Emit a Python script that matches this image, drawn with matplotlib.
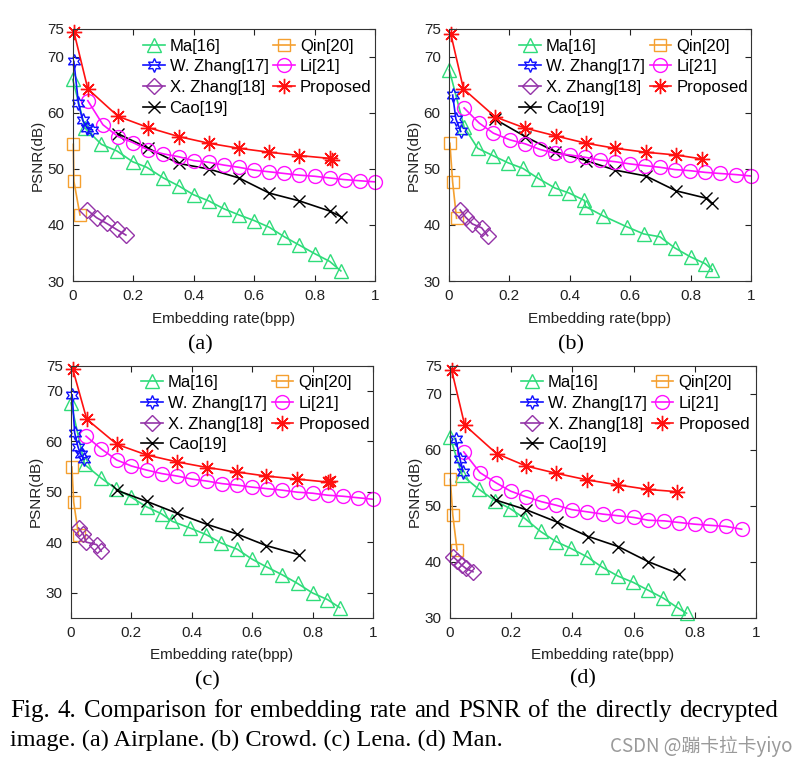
import matplotlib
matplotlib.use("Agg")
import matplotlib.pyplot as plt

plt.rcParams['font.family'] = ['Liberation Sans', 'DejaVu Sans']

labels = ["Ma[16]", "W. Zhang[17]", "X. Zhang[18]", "Cao[19]", "Qin[20]", "Li[21]", "Proposed"]
panel_tags = ["(a)", "(b)", "(c)", "(d)"]
x_ticks = [0, 0.2, 0.4, 0.6, 0.8, 1.0]
x_ticklabels = ["0", "0.2", "0.4", "0.6", "0.8", "1"]
y_ticks = [30, 40, 50, 60, 70, 75]
y_ticklabels = ["30", "40", "50", "60", "70", "75"]
ylims = [(30, 75), (30, 75), (25, 75), (30, 75)]
caption_line1 = "Fig. 4. Comparison for embedding rate and PSNR of the directly decrypted"
caption_line2 = "image. (a) Airplane. (b) Crowd. (c) Lena. (d) Man."
watermark = "CSDN @蹦卡拉卡yiyo"

# ---------------- (a) Airplane ----------------
ma_a_x = [0.0, 0.041, 0.095, 0.147, 0.198, 0.245, 0.3, 0.35, 0.4, 0.45, 0.5, 0.55, 0.6, 0.65, 0.7, 0.75, 0.8, 0.85, 0.887]
ma_a_y = [66.0, 57.3, 54.4, 53.2, 51.3, 50.3, 48.4, 47.0, 45.4, 44.3, 42.9, 41.8, 40.8, 39.6, 37.9, 36.4, 34.9, 33.5, 31.8]
wz_a_x = [0.004, 0.019, 0.033, 0.048, 0.065]
wz_a_y = [69.2, 61.7, 58.7, 57.3, 57.0]
xz_a_x = [0.048, 0.079, 0.112, 0.145, 0.176]
xz_a_y = [42.7, 41.3, 40.3, 39.2, 38.2]
cao_a_x = [0.15, 0.25, 0.35, 0.45, 0.55, 0.65, 0.75, 0.85, 0.887]
cao_a_y = [56.3, 53.7, 51.0, 50.0, 48.4, 45.7, 44.3, 42.5, 41.5]
qin_a_x = [0.002, 0.004, 0.024]
qin_a_y = [54.4, 47.8, 41.8]
li_a_x = [0.05, 0.1, 0.15, 0.2, 0.25, 0.3, 0.35, 0.4, 0.45, 0.5, 0.55, 0.6, 0.65, 0.7, 0.75, 0.8, 0.85, 0.9, 0.95, 1.0]
li_a_y = [62.2, 57.9, 55.8, 54.7, 53.4, 52.7, 52.2, 51.5, 51.2, 50.7, 50.3, 49.8, 49.5, 49.2, 48.9, 48.7, 48.4, 48.1, 47.9, 47.7]
pr_a_x = [0.004, 0.05, 0.15, 0.25, 0.35, 0.45, 0.55, 0.65, 0.75, 0.85, 0.857]
pr_a_y = [74.5, 64.3, 59.4, 57.4, 55.8, 54.6, 53.7, 53.0, 52.4, 51.9, 51.6]

# ---------------- (b) Crowd ----------------
ma_b_x = [0.001, 0.05, 0.095, 0.145, 0.196, 0.245, 0.296, 0.351, 0.398, 0.448, 0.452, 0.511, 0.588, 0.645, 0.698, 0.748, 0.8, 0.848, 0.872]
ma_b_y = [67.7, 57.5, 53.7, 52.4, 51.1, 50.1, 48.3, 46.6, 45.7, 44.4, 43.3, 41.6, 39.7, 38.4, 37.9, 35.9, 34.3, 33.1, 32.0]
wz_b_x = [0.012, 0.023, 0.039]
wz_b_y = [63.2, 58.9, 56.7]
xz_b_x = [0.037, 0.055, 0.077, 0.108, 0.128]
xz_b_y = [42.7, 41.4, 40.2, 39.5, 38.1]
cao_b_x = [0.152, 0.252, 0.351, 0.454, 0.55, 0.652, 0.752, 0.851, 0.87]
cao_b_y = [58.9, 55.8, 53.1, 51.5, 49.8, 48.75, 46.1, 44.8, 43.9]
qin_b_x = [0.003, 0.012, 0.025]
qin_b_y = [54.6, 47.7, 41.2]
li_b_x = [0.05, 0.1, 0.147, 0.202, 0.252, 0.301, 0.351, 0.401, 0.45, 0.5, 0.55, 0.6, 0.649, 0.699, 0.748, 0.798, 0.848, 0.897, 0.95, 1.0]
li_b_y = [60.9, 58.2, 56.4, 55.2, 54.5, 53.5, 52.8, 52.5, 52.1, 51.6, 51.3, 50.9, 50.6, 50.3, 49.9, 49.7, 49.4, 49.2, 49.0, 48.75]
pr_b_x = [0.006, 0.048, 0.153, 0.252, 0.354, 0.454, 0.55, 0.651, 0.752, 0.837]
pr_b_y = [74.1, 64.3, 59.3, 57.3, 55.9, 54.6, 53.7, 53.0, 52.5, 51.8]

# ---------------- (c) Lena ----------------
ma_c_x = [0.0, 0.045, 0.1, 0.148, 0.2, 0.25, 0.3, 0.336, 0.394, 0.447, 0.498, 0.55, 0.6, 0.65, 0.7, 0.75, 0.8, 0.849, 0.89]
ma_c_y = [67.6, 55.4, 52.7, 50.6, 48.9, 47.0, 45.6, 44.1, 42.8, 41.5, 39.8, 38.6, 36.6, 35.0, 33.5, 31.8, 29.9, 28.6, 27.0]
wz_c_x = [0.004, 0.012, 0.023, 0.032, 0.043]
wz_c_y = [69.2, 61.7, 58.9, 57.4, 56.4]
xz_c_x = [0.025, 0.04, 0.05, 0.085, 0.1]
xz_c_y = [42.8, 41.6, 40.0, 39.5, 38.2]
cao_c_x = [0.151, 0.25, 0.352, 0.451, 0.55, 0.647, 0.754]
cao_c_y = [50.3, 48.1, 45.7, 43.5, 41.6, 39.3, 37.5]
qin_c_x = [0.003, 0.009, 0.025]
qin_c_y = [54.9, 47.9, 41.4]
li_c_x = [0.05, 0.1, 0.151, 0.2, 0.25, 0.3, 0.352, 0.4, 0.451, 0.5, 0.55, 0.6, 0.65, 0.7, 0.75, 0.8, 0.85, 0.9, 0.95, 1.0]
li_c_y = [61.0, 58.5, 56.3, 55.1, 54.3, 53.6, 53.1, 52.5, 52.1, 51.6, 51.3, 50.9, 50.6, 50.3, 49.9, 49.7, 49.3, 49.1, 48.8, 48.5]
pr_c_x = [0.006, 0.052, 0.152, 0.25, 0.352, 0.451, 0.55, 0.647, 0.749, 0.851, 0.857]
pr_c_y = [74.3, 64.4, 59.4, 57.3, 55.9, 54.8, 53.9, 53.1, 52.5, 51.9, 52.1]

# ---------------- (d) Man ----------------
ma_d_x = [0.0, 0.04, 0.095, 0.147, 0.196, 0.245, 0.296, 0.346, 0.394, 0.447, 0.498, 0.55, 0.599, 0.648, 0.697, 0.746, 0.773]
ma_d_y = [62.3, 55.4, 52.9, 50.9, 49.5, 47.7, 45.4, 43.6, 42.4, 40.9, 39.0, 37.4, 36.3, 34.9, 33.5, 31.7, 30.8]
wz_d_x = [0.018, 0.033, 0.042]
wz_d_y = [62.0, 58.3, 56.1]
xz_d_x = [0.01, 0.024, 0.038, 0.052, 0.075]
xz_d_y = [40.9, 40.2, 39.4, 38.8, 38.2]
cao_d_x = [0.15, 0.248, 0.349, 0.452, 0.55, 0.648, 0.749]
cao_d_y = [51.0, 49.3, 47.1, 44.5, 42.7, 40.0, 37.8]
qin_d_x = [0.001, 0.009, 0.023]
qin_d_y = [54.7, 48.4, 42.1]
li_d_x = [0.045, 0.098, 0.15, 0.198, 0.248, 0.3, 0.346, 0.398, 0.449, 0.499, 0.55, 0.601, 0.648, 0.699, 0.749, 0.8, 0.85, 0.902, 0.953]
li_d_y = [59.6, 55.9, 54.1, 52.6, 51.6, 50.7, 50.1, 49.3, 48.9, 48.5, 48.2, 47.9, 47.4, 47.3, 47.0, 46.7, 46.5, 46.3, 45.8]
pr_d_x = [0.005, 0.048, 0.152, 0.248, 0.346, 0.449, 0.55, 0.648, 0.743]
pr_d_y = [74.3, 64.4, 59.3, 57.1, 55.8, 54.6, 53.7, 52.9, 52.5]

panels = [
    [(ma_a_x, ma_a_y), (wz_a_x, wz_a_y), (xz_a_x, xz_a_y), (cao_a_x, cao_a_y), (qin_a_x, qin_a_y), (li_a_x, li_a_y), (pr_a_x, pr_a_y)],
    [(ma_b_x, ma_b_y), (wz_b_x, wz_b_y), (xz_b_x, xz_b_y), (cao_b_x, cao_b_y), (qin_b_x, qin_b_y), (li_b_x, li_b_y), (pr_b_x, pr_b_y)],
    [(ma_c_x, ma_c_y), (wz_c_x, wz_c_y), (xz_c_x, xz_c_y), (cao_c_x, cao_c_y), (qin_c_x, qin_c_y), (li_c_x, li_c_y), (pr_c_x, pr_c_y)],
    [(ma_d_x, ma_d_y), (wz_d_x, wz_d_y), (xz_d_x, xz_d_y), (cao_d_x, cao_d_y), (qin_d_x, qin_d_y), (li_d_x, li_d_y), (pr_d_x, pr_d_y)],
]

styles = [
    dict(color='#2fdc7a', marker='^', ms=10),
    dict(color='#1010ff', marker=(6, 1, 0), ms=10),
    dict(color='#9433a8', marker='D', ms=8),
    dict(color='black', marker='x', ms=8),
    dict(color='#f5a030', marker='s', ms=9),
    dict(color='#ff10ff', marker='o', ms=10),
    dict(color='#ff1010', marker=(8, 2, 0), ms=11),
]
draw_order = [0, 4, 2, 3, 5, 1, 6]

W, H = 807, 764
fig = plt.figure(figsize=(W / 100, H / 100), dpi=100)

boxes = [(72.7, 29, 375, 281), (449, 29, 751, 281), (71, 365.7, 373, 617.7), (450, 365.7, 756, 617.7)]
tag_pos = [(200, 345), (571, 345), (207, 681), (583, 679)]

for i, (l, t, r, b) in enumerate(boxes):
    ax = fig.add_axes([l / W, 1 - b / H, (r - l) / W, (b - t) / H])
    handles = [None] * 7
    for k in draw_order:
        xs, ys = panels[i][k]
        st = styles[k]
        ln, = ax.plot(xs, ys, color=st['color'], lw=1.2, marker=st['marker'], ms=st['ms'],
                      mfc='none', mec=st['color'], mew=1.0, label=labels[k], clip_on=False)
        handles[k] = ln
    ax.set_xlim(0, 1)
    ax.set_ylim(*ylims[i])
    ax.set_xticks(x_ticks)
    ax.set_xticklabels(x_ticklabels)
    ax.set_yticks(y_ticks)
    ax.set_yticklabels(y_ticklabels)
    ax.tick_params(direction='in', top=True, right=True, length=4, width=0.8,
                   labelsize=11, colors='#222222', pad=6)
    for sp in ax.spines.values():
        sp.set_color('#333333')
        sp.set_linewidth(0.8)
    ax.set_xlabel("Embedding rate(bpp)", fontsize=11, color='#222222', labelpad=6)
    ax.set_ylabel("PSNR(dB)", fontsize=11, color='#222222', labelpad=2)
    ax.legend(handles=handles, labels=labels, ncol=2, loc='upper left',
              bbox_to_anchor=(0.232, 0.962), frameon=False, fontsize=12,
              handlelength=1.3, handletextpad=0.3, columnspacing=0.3,
              labelspacing=0.34, borderpad=0, borderaxespad=0)
    tx, ty = tag_pos[i]
    fig.text(tx / W, 1 - ty / H, panel_tags[i], ha='center', va='center',
             fontsize=16, family='Liberation Serif')

# caption: first line justified between x=10 and x=778
renderer = fig.canvas.get_renderer()
words = caption_line1.split()
cap_kw = dict(ha='left', va='center', family='Liberation Serif')
items = [fig.text(0, 1 - 711 / H, w_, fontsize=18, **cap_kw) for w_ in words]
widths = [it.get_window_extent(renderer).width for it in items]
gap = (778 - 10 - sum(widths)) / (len(words) - 1)
xpos = 10.0
for it, wd in zip(items, widths):
    it.set_x(xpos / W)
    xpos += wd + gap
fig.text(10 / W, 1 - 740 / H, caption_line2, fontsize=17.5, **cap_kw)
fig.text(793 / W, 1 - 746 / H, watermark, ha='right', va='center',
         fontsize=13.5, color='#9a9a9a', family=['Noto Sans CJK SC', 'DejaVu Sans'])

fig.savefig("out.png", dpi=100)
